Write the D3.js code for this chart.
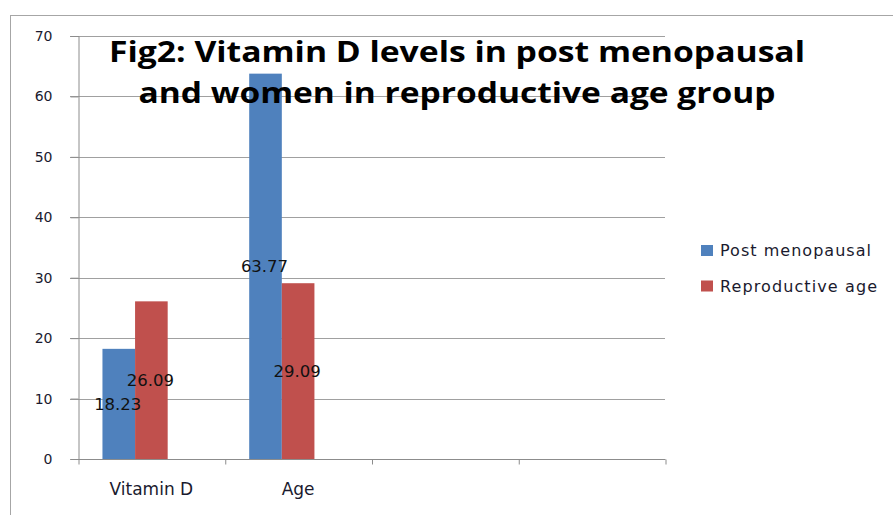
<!DOCTYPE html>
<html><head><meta charset="utf-8">
<script src="https://cdn.jsdelivr.net/npm/d3@7"></script>
<style>body{margin:0;background:#fff;}svg{display:block;}</style>
</head><body>
<svg id="c" width="893" height="515"></svg>
<script>
// ---- data ----
const categories = ["Vitamin D", "Age", "", ""];
const seriesNames = ["Post menopausal", "Reproductive age"];
const postMenopausal = [18.23, 63.77, null, null];
const reproductiveAge = [26.09, 29.09, null, null];
const yTicks = [0, 10, 20, 30, 40, 50, 60, 70];
const titleLines = ["Fig2: Vitamin D levels in post menopausal", "and women in reproductive age group"];
const colors = ["#4F81BD", "#C0504D"];

const svg = d3.select("#c");
const plotL = 78, plotR = 665, plotT = 36, plotB = 459;
const font = "'DejaVu Sans', 'Open Sans', sans-serif";
const titleFont = "'Open Sans', 'Liberation Sans', sans-serif";
const textCol = "#1a1a2e";

// outer border
svg.append("rect").attr("x", 10.5).attr("y", 15.5).attr("width", 900).attr("height", 520)
  .attr("fill", "none").attr("stroke", "#a6a6a6").attr("stroke-width", 1);

const x0 = d3.scaleBand().domain(d3.range(categories.length)).range([plotL, plotR]).padding(0);
const bw = x0.bandwidth() / 4.5; // 3 series slots + 150% gap
const x1 = d3.scaleBand().domain([0, 1, 2]).range([0.75 * bw, 3.75 * bw]).padding(0);
const y = d3.scaleLinear().domain([0, 70]).range([plotB, plotT]);

// gridlines
svg.append("g").selectAll("line").data(yTicks.filter(t => t > 0)).join("line")
  .attr("x1", plotL - 8).attr("x2", plotR)
  .attr("y1", d => Math.round(y(d)) + 0.5).attr("y2", d => Math.round(y(d)) + 0.5)
  .attr("stroke", "#a0a0a0").attr("stroke-width", 1);

// y axis
const yAxis = d3.axisLeft(y).tickValues(yTicks).tickSize(8).tickPadding(18);
const gy = svg.append("g").attr("transform", `translate(${plotL + 0.5},0)`).call(yAxis);
gy.select(".domain").attr("stroke", "#8c8c8c");
gy.selectAll(".tick line").attr("stroke", "#8c8c8c");
gy.selectAll(".tick text").attr("font-family", font).attr("font-size", 14).attr("fill", textCol);

// x axis
const xAxis = d3.axisBottom(d3.scaleLinear().domain([0, categories.length]).range([plotL, plotR]))
  .tickValues(d3.range(categories.length + 1)).tickSize(5).tickFormat("");
const gx = svg.append("g").attr("transform", `translate(0.5,${Math.round(plotB) + 0.5})`).call(xAxis);
gx.select(".domain").attr("stroke", "#8c8c8c").attr("d", `M${plotL - 8},0H${plotR}`);
gx.selectAll(".tick line").attr("stroke", "#8c8c8c");

svg.append("g").selectAll("text").data(categories).join("text")
  .attr("x", (d, i) => x0(i) + x0.bandwidth() / 2).attr("y", 495)
  .attr("text-anchor", "middle").attr("font-family", font).attr("font-size", 17)
  .attr("fill", textCol).text(d => d);

// bars
const series = [postMenopausal, reproductiveAge];
const barData = [];
series.forEach((vals, s) => vals.forEach((v, i) => { if (v != null) barData.push({ s, i, v }); }));

svg.append("g").selectAll("rect").data(barData).join("rect")
  .attr("x", d => x0(d.i) + x1(d.s)).attr("width", x1.bandwidth())
  .attr("y", d => y(d.v)).attr("height", d => y(0) - y(d.v))
  .attr("fill", d => colors[d.s]);

// title
const tg = svg.append("g");
const titleY = [62, 103], titleW = [696, 637];
titleLines.forEach((t, k) => {
  tg.append("text").attr("x", 457).attr("y", titleY[k]).attr("text-anchor", "middle")
    .attr("font-family", titleFont).attr("font-weight", "bold").attr("font-size", 28)
    .attr("textLength", titleW[k]).attr("lengthAdjust", "spacingAndGlyphs")
    .attr("fill", "#000").text(t);
});

// data labels (centered in bars)
svg.append("g").selectAll("text").data(barData).join("text")
  .attr("x", d => x0(d.i) + x1(d.s) + x1.bandwidth() / 2 - 1)
  .attr("y", d => (y(d.v) + y(0)) / 2 + 6)
  .attr("text-anchor", "middle").attr("font-family", font).attr("font-size", 16.5)
  .attr("fill", "#111").text(d => d.v.toFixed(2));

// legend
const lg = svg.append("g");
seriesNames.forEach((n, k) => {
  const ly = 245 + k * 35.5;
  lg.append("rect").attr("x", 701).attr("y", ly).attr("width", 12).attr("height", 11).attr("fill", colors[k]);
  lg.append("text").attr("x", 720).attr("y", ly + 11).attr("font-family", font).attr("font-size", 16)
    .attr("fill", textCol).attr("textLength", k === 0 ? 151 : 157).attr("lengthAdjust", "spacing").text(n);
});
</script>
</body></html>
